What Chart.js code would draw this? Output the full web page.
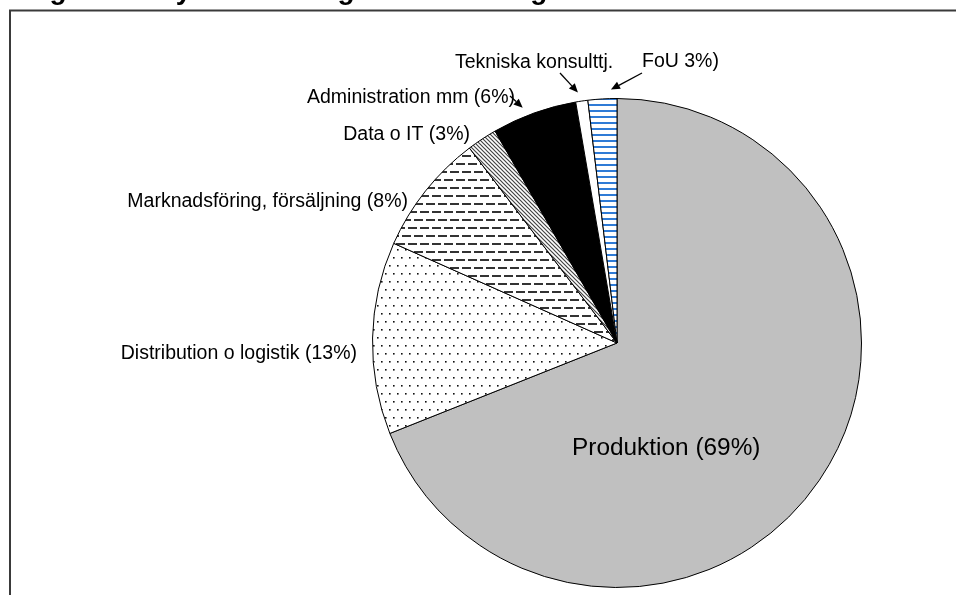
<!DOCTYPE html>
<html>
<head>
<meta charset="utf-8">
<script src="https://cdn.jsdelivr.net/npm/chart.js@4.4.1/dist/chart.umd.min.js"></script>
<style>
  html, body { margin: 0; padding: 0; background: #fff; }
  canvas { display: block; }
</style>
</head>
<body>
<canvas id="pie" width="956" height="595"></canvas>
<script>
// slices, clockwise from 12 o'clock
const categories = ['Produktion (69%)', 'Distribution o logistik (13%)', 'Marknadsföring, försäljning (8%)',
    'Data o IT (3%)', 'Administration mm (6%)', 'Tekniska konsulttj.', 'FoU 3%)'];
const shares = [68.9, 12.7, 8.0, 2.0, 5.6, 0.8, 1.9];

const titleText = 'Diagram 7. Sysselsättningens fördelning';

// where each label sits (text is placed by hand like in the original)
const labelLayout = [
    { x: 572, y: 455, align: 'left', size: 24.4 },
    { x: 357, y: 359, align: 'right', size: 19.5 },
    { x: 408, y: 207, align: 'right', size: 19.5 },
    { x: 470, y: 140, align: 'right', size: 19.5 },
    { x: 515, y: 103, align: 'right', size: 19.5 },
    { x: 455, y: 68, align: 'left', size: 19.5 },
    { x: 642, y: 67, align: 'left', size: 19.5 },
];
// arrow tails for the small slices, aim = where in the slice the arrow points
const arrows = [
    { slice: 4, tx: 510, ty: 96, aim: 0.4 },
    { slice: 5, tx: 560, ty: 73, aim: 0.3 },
    { slice: 6, tx: 642, ty: 73, aim: 0.8 },
];

function makePattern(w, h, draw) {
    let c = document.createElement('canvas');
    c.width = w;
    c.height = h;
    let g = c.getContext('2d');
    g.fillStyle = '#fff';
    g.fillRect(0, 0, w, h);
    draw(g);
    return g.createPattern(c, 'repeat');
}

let dots = makePattern(8, 16, g => {
    g.fillStyle = '#111';
    g.fillRect(1, 1, 1.6, 1.6);
    g.fillRect(5, 9, 1.6, 1.6);
});
let dashes = makePattern(24, 16, g => {
    g.fillStyle = '#333';
    g.fillRect(0, 3, 9, 2);
    g.fillRect(12, 3, 9, 2);
    g.fillRect(6, 11, 9, 2);
    g.fillRect(18, 11, 6, 2);
    g.fillRect(0, 11, 3, 2);
});
let diagonal = makePattern(4, 4, g => {
    g.strokeStyle = '#444';
    g.lineWidth = 1.2;
    g.beginPath();
    g.moveTo(-1, -1); g.lineTo(5, 5);
    g.moveTo(-1, 3); g.lineTo(1, 5);
    g.moveTo(3, -1); g.lineTo(5, 1);
    g.stroke();
});
let blueLines = makePattern(6, 6, g => {
    g.fillStyle = '#2f7bd6';
    g.fillRect(0, 2, 6, 2);
});

let fills = ['#c0c0c0', dots, dashes, diagonal, '#000000', '#ffffff', blueLines];

const decorations = {
    id: 'decorations',
    beforeDraw(chart) {
        let ctx = chart.ctx;
        ctx.save();
        ctx.fillStyle = '#fff';
        ctx.fillRect(0, 0, chart.width, chart.height);
        ctx.strokeStyle = '#3a3a3a';
        ctx.lineWidth = 2;
        ctx.strokeRect(10, 10.5, chart.width + 20, chart.height + 20);
        // title, mostly cut off by the top edge
        ctx.fillStyle = '#000';
        ctx.font = 'bold 28px "Liberation Sans", Arial, sans-serif';
        ctx.textBaseline = 'alphabetic';
        ctx.textAlign = 'left';
        ctx.fillText(titleText, 6, -1);
        ctx.restore();
    },
    afterDraw(chart) {
        let ctx = chart.ctx;
        let meta = chart.getDatasetMeta(0);
        ctx.save();
        ctx.fillStyle = '#000';
        ctx.textBaseline = 'alphabetic';
        categories.forEach((name, i) => {
            let l = labelLayout[i];
            ctx.font = l.size + 'px "Liberation Sans", Arial, sans-serif';
            ctx.textAlign = l.align;
            ctx.fillText(name, l.x, l.y);
        });
        ctx.strokeStyle = '#000';
        ctx.lineWidth = 1.3;
        arrows.forEach(a => {
            let arc = meta.data[a.slice].getProps(['x', 'y', 'startAngle', 'endAngle', 'outerRadius']);
            let ang = arc.startAngle + (arc.endAngle - arc.startAngle) * a.aim;
            let r = arc.outerRadius + 9;
            let hx = arc.x + Math.cos(ang) * r;
            let hy = arc.y + Math.sin(ang) * r;
            let dir = Math.atan2(hy - a.ty, hx - a.tx);
            let len = 9, wid = 4;
            let bx = hx - Math.cos(dir) * len;
            let by = hy - Math.sin(dir) * len;
            ctx.beginPath();
            ctx.moveTo(a.tx, a.ty);
            ctx.lineTo(bx, by);
            ctx.stroke();
            ctx.beginPath();
            ctx.moveTo(hx, hy);
            ctx.lineTo(bx + Math.sin(dir) * wid, by - Math.cos(dir) * wid);
            ctx.lineTo(bx - Math.sin(dir) * wid, by + Math.cos(dir) * wid);
            ctx.closePath();
            ctx.fill();
        });
        ctx.restore();
    }
};

new Chart(document.getElementById('pie'), {
    type: 'pie',
    data: {
        labels: categories,
        datasets: [{
            data: shares,
            backgroundColor: fills,
            borderColor: '#000',
            borderWidth: 1
        }]
    },
    options: {
        responsive: false,
        animation: false,
        layout: { padding: { left: 372, right: 94, top: 98, bottom: 7 } },
        plugins: {
            legend: { display: false },
            tooltip: { enabled: false }
        }
    },
    plugins: [decorations]
});
</script>
</body>
</html>
